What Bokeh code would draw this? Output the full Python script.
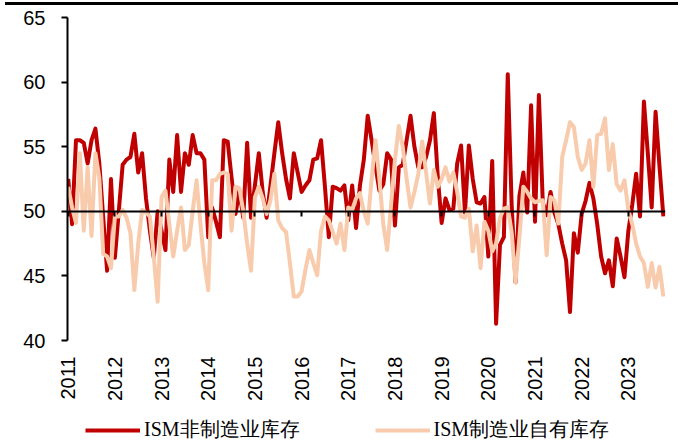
from bokeh.plotting import figure
from bokeh.models import (ColumnDataSource, FixedTicker, LinearAxis, Legend,
                          LegendItem, Range1d, Div)
from bokeh.layouts import column
from bokeh.embed import file_html
from bokeh.resources import INLINE

# ---- data (monthly, Jan 2011 - Oct 2023) ----
year_labels = ["2011", "2012", "2013", "2014", "2015", "2016", "2017",
               "2018", "2019", "2020", "2021", "2022", "2023"]
series_names = ["ISM非制造业库存", "ISM制造业自有库存"]

# ISM non-manufacturing inventories
nonmfg_2011 = [52.5, 49.0, 55.5, 55.5, 55.3, 53.7, 55.5, 56.4, 53.7, 49.5, 45.4, 52.5]
nonmfg_2012 = [46.4, 50.0, 53.6, 54.0, 54.2, 56.0, 53.0, 54.5, 51.0, 48.5, 46.4, 50.0]
nonmfg_2013 = [48.5, 47.0, 54.0, 51.5, 55.9, 51.5, 54.5, 53.6, 55.9, 54.5, 54.5, 54.0]
nonmfg_2014 = [48.0, 50.3, 49.2, 48.0, 55.5, 55.4, 52.6, 49.8, 51.6, 49.5, 55.3, 49.5]
nonmfg_2015 = [52.0, 54.5, 51.5, 49.5, 52.0, 54.5, 56.9, 54.5, 52.5, 51.0, 54.5, 53.0]
nonmfg_2016 = [51.5, 52.0, 52.4, 54.0, 54.1, 55.5, 51.9, 48.0, 51.9, 51.8, 51.6, 52.0]
nonmfg_2017 = [49.3, 52.0, 48.7, 52.0, 54.0, 57.4, 55.5, 53.5, 51.6, 52.1, 54.5, 54.0]
nonmfg_2018 = [48.9, 53.4, 53.6, 55.5, 57.4, 55.0, 53.4, 53.4, 54.2, 55.5, 57.6, 52.7]
nonmfg_2019 = [49.1, 51.0, 50.1, 50.2, 53.7, 55.1, 49.9, 55.1, 52.5, 50.7, 50.6, 51.1]
nonmfg_2020 = [46.5, 53.9, 41.3, 47.4, 48.0, 60.6, 50.5, 44.5, 51.2, 53.0, 49.9, 58.2]
nonmfg_2021 = [49.2, 59.0, 50.7, 49.7, 51.5, 49.9, 49.0, 47.5, 46.2, 42.2, 48.3, 46.8]
nonmfg_2022 = [49.8, 50.8, 52.2, 51.0, 49.0, 46.5, 45.2, 46.2, 44.2, 47.9, 46.5, 44.9]
nonmfg_2023 = [48.5, 50.5, 52.9, 49.6, 58.5, 54.5, 50.3, 57.7, 53.5, 49.6]

# ISM manufacturing inventories
mfg_2011 = [51.9, 50.3, 49.1, 54.5, 48.5, 53.4, 48.1, 54.5, 52.6, 46.7, 46.5, 45.6]
mfg_2012 = [49.6, 49.6, 50.1, 49.5, 48.3, 43.9, 47.5, 50.1, 49.9, 49.6, 46.5, 43.0]
mfg_2013 = [51.1, 51.6, 49.0, 46.5, 48.5, 50.3, 47.0, 47.4, 50.0, 52.4, 49.0, 46.0]
mfg_2014 = [43.9, 52.4, 52.4, 52.9, 53.0, 52.9, 48.5, 51.9, 51.8, 50.0, 47.5, 45.4]
mfg_2015 = [51.1, 51.9, 51.0, 49.8, 50.85, 52.9, 49.3, 48.7, 48.4, 46.0, 43.4, 43.4]
mfg_2016 = [43.8, 45.5, 47.0, 46.0, 45.05, 48.5, 49.6, 49.3, 48.4, 47.5, 49.05, 47.0]
mfg_2017 = [50.3, 50.1, 51.0, 51.4, 50.0, 49.05, 52.5, 55.5, 52.5, 49.0, 47.0, 50.5]
mfg_2018 = [54.0, 56.6, 55.0, 52.5, 50.3, 51.5, 52.9, 55.4, 53.0, 50.6, 53.2, 51.9]
mfg_2019 = [52.5, 53.4, 52.3, 53.0, 51.5, 49.6, 49.5, 50.2, 46.9, 48.9, 45.6, 49.2]
mfg_2020 = [48.5, 46.9, 47.5, 49.5, 50.2, 50.3, 48.4, 44.5, 48.0, 51.9, 51.5, 51.0]
mfg_2021 = [50.7, 50.8, 50.85, 46.6, 51.1, 50.85, 49.05, 54.2, 55.5, 56.9, 56.5, 54.2]
mfg_2022 = [53.2, 53.7, 55.5, 51.9, 55.9, 56.0, 57.2, 53.2, 55.2, 52.1, 51.6, 52.4]
mfg_2023 = [50.1, 49.0, 47.5, 46.5, 46.0, 44.15, 46.0, 44.1, 45.7, 43.4]

nonmfg = (nonmfg_2011 + nonmfg_2012 + nonmfg_2013 + nonmfg_2014 + nonmfg_2015 +
          nonmfg_2016 + nonmfg_2017 + nonmfg_2018 + nonmfg_2019 + nonmfg_2020 +
          nonmfg_2021 + nonmfg_2022 + nonmfg_2023)
mfg = (mfg_2011 + mfg_2012 + mfg_2013 + mfg_2014 + mfg_2015 + mfg_2016 +
       mfg_2017 + mfg_2018 + mfg_2019 + mfg_2020 + mfg_2021 + mfg_2022 + mfg_2023)
month_idx = list(range(len(nonmfg)))

src = ColumnDataSource(data=dict(m=month_idx, nonmfg=nonmfg, mfg=mfg))

RED = "#C00000"
PEACH = "#F8CBAD"
year_ticks = [12 * k for k in range(len(year_labels))]

# ---------------- main chart ----------------
p = figure(width=680, height=400, output_backend="svg", toolbar_location=None,
           x_range=Range1d(-0.18, 153.55), y_range=Range1d(40, 65),
           min_border_left=67, min_border_right=15, min_border_top=10,
           min_border_bottom=67)
p.outline_line_color = None
p.xgrid.visible = False
p.ygrid.visible = False

xa = p.xaxis[0]
xa.ticker = FixedTicker(ticks=year_ticks)
xa.major_label_overrides = {t: l for t, l in zip(year_ticks, year_labels)}
xa.major_label_orientation = 3.14159265 / 2
xa.axis_line_color = None
xa.major_tick_line_color = None
xa.major_tick_out = 0
xa.major_tick_in = 0
xa.minor_tick_line_color = None
xa.major_label_standoff = 16
xa.major_label_text_font = "Liberation Sans"
xa.major_label_text_font_size = "20px"
xa.major_label_text_color = "#000000"

# horizontal axis line crossing at 50, with year tick marks (no labels)
mid = LinearAxis(fixed_location=50, ticker=FixedTicker(ticks=year_ticks),
                 axis_line_color="#000000", axis_line_width=2,
                 major_tick_line_color="#000000", major_tick_line_width=2,
                 major_tick_in=5, major_tick_out=0,
                 minor_tick_line_color=None,
                 major_label_text_color=None,
                 major_label_text_font_size="1px", major_label_standoff=0)
p.add_layout(mid, "above")

ya = p.yaxis[0]
ya.ticker = FixedTicker(ticks=[40, 45, 50, 55, 60, 65])
ya.axis_line_color = "#000000"
ya.axis_line_width = 2
ya.major_tick_line_color = "#000000"
ya.major_tick_line_width = 2
ya.major_tick_out = 6
ya.major_tick_in = 0
ya.minor_tick_line_color = None
ya.major_label_standoff = 16
ya.major_label_text_font = "Liberation Sans"
ya.major_label_text_font_size = "20px"
ya.major_label_text_color = "#000000"

p.line(x="m", y="nonmfg", source=src, line_color=RED, line_width=4,
       line_join="round")
p.line(x="m", y="mfg", source=src, line_color=PEACH, line_width=4,
       line_join="round")

# ---------------- legend strip ----------------
# same series drawn again in a strip whose view shows none of them;
# they only serve as legend keys
lg = figure(width=680, height=37, output_backend="svg", toolbar_location=None,
            x_range=Range1d(-0.18, 153.55), y_range=Range1d(0, 1),
            x_axis_location=None, y_axis_location=None,
            min_border_left=0, min_border_right=0, min_border_top=0,
            min_border_bottom=0)
lg.outline_line_color = None
lg.xgrid.visible = False
lg.ygrid.visible = False
k1 = lg.line(x="m", y="nonmfg", source=src, line_color=RED, line_width=4)
k2 = lg.line(x="m", y="mfg", source=src, line_color=PEACH, line_width=4)
legend = Legend(items=[LegendItem(label=series_names[0], renderers=[k1]),
                       LegendItem(label=series_names[1], renderers=[k2])],
                location=(18, 1), orientation="horizontal",
                glyph_width=55, glyph_height=20, label_height=20,
                label_standoff=4, padding=0, margin=0, spacing=75,
                border_line_color=None, background_fill_alpha=0,
                label_text_font="Liberation Serif",
                label_text_font_size="20px", label_text_color="#000000")
lg.add_layout(legend)

top_rule = Div(text="", width=673, height=3, margin=(2, 0, 2, 5),
               styles={"background-color": "#000000"})
layout = column(top_rule, p, lg, spacing=0)

open("out.html", "w").write(file_html(layout, INLINE))
